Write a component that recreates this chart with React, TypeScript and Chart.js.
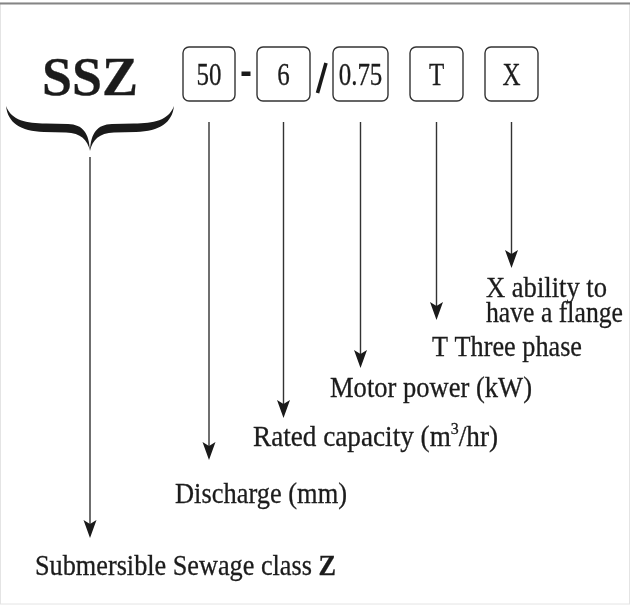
import React, { useEffect, useRef } from "react";
import { Chart, registerables } from "chart.js";

Chart.register(...registerables);

// ---- data ----
const brandCode = "SSZ";
const codeSegments = ["50", "6", "0.75", "T", "X"];
const separators = ["-", "/", "", ""];
const codeMeanings: { text: string; bold?: boolean; sup?: boolean }[][][] = [
  [[{ text: "Discharge (mm)" }]],
  [[{ text: "Rated capacity (m" }, { text: "3", sup: true }, { text: "/hr)" }]],
  [[{ text: "Motor power (kW)" }]],
  [[{ text: "T Three phase" }]],
  [[{ text: "X ability to" }], [{ text: "have a flange" }]],
];
const brandMeaning = [{ text: "Submersible Sewage class " }, { text: "Z", bold: true }];

// ---- layout (pixels in a 630 x 606 frame) ----
const W = 630;
const H = 606;
const boxLeft = [183, 257, 333, 410, 485];
const boxWidth = [52, 53, 55, 53, 53];
const boxTop = 47;
const boxHeight = 54;
const arrowStartY = 122;
const arrowTipY = [460, 418, 368, 320, 268];
const labelLeft = [175, 253, 330, 432, 486];
const labelRight = [[347], [498], [532], [582], [607, 623]];
const labelBaseline = [[503], [446], [397], [356], [297, 322]];
const brandArrowX = 90;
const brandArrowStart = 157;
const brandArrowTip = 538;

const SERIF = "Liberation Serif";
const INK = "#1c1c1c";

function drawRich(
  ctx: CanvasRenderingContext2D,
  segs: { text: string; bold?: boolean; sup?: boolean }[],
  left: number,
  baseline: number,
  size: number,
  right: number
) {
  const fontOf = (s: { bold?: boolean; sup?: boolean }) =>
    `${s.bold ? "bold " : ""}${s.sup ? Math.round(size * 0.6) : size}px "${SERIF}"`;
  let w = 0;
  const widths: number[] = [];
  segs.forEach((s) => {
    ctx.font = fontOf(s);
    const m = ctx.measureText(s.text).width;
    widths.push(m);
    w += m;
  });
  const sx = (right - left) / w;
  ctx.save();
  ctx.translate(left, baseline);
  ctx.scale(sx, 1);
  ctx.fillStyle = INK;
  ctx.strokeStyle = INK;
  ctx.lineWidth = 0.3;
  ctx.textBaseline = "alphabetic";
  ctx.textAlign = "left";
  let cx = 0;
  segs.forEach((s, i) => {
    ctx.font = fontOf(s);
    const yy = s.sup ? -size * 0.4 : 0;
    ctx.fillText(s.text, cx, yy);
    ctx.strokeText(s.text, cx, yy);
    cx += widths[i];
  });
  ctx.restore();
}

function arrowHead(ctx: CanvasRenderingContext2D, x: number, tip: number) {
  ctx.beginPath();
  ctx.moveTo(x, tip);
  ctx.lineTo(x - 6.5, tip - 18);
  ctx.lineTo(x, tip - 14);
  ctx.lineTo(x + 6.5, tip - 18);
  ctx.closePath();
  ctx.fillStyle = "#1a1a1a";
  ctx.fill();
}

const diagramPlugin = {
  id: "diagram",
  afterDatasetsDraw(chart: any) {
    const { ctx } = chart;
    const sx = chart.scales.x;
    const sy = chart.scales.y;
    const X = (v: number) => sx.getPixelForValue(v);
    const Y = (v: number) => sy.getPixelForValue(v);
    ctx.save();

    // frame
    ctx.strokeStyle = "#e4e4e4";
    ctx.lineWidth = 1;
    ctx.strokeRect(X(0) + 0.5, Y(3), X(W) - 1, Y(604) - Y(3));
    ctx.strokeStyle = "#858585";
    ctx.lineWidth = 2;
    ctx.beginPath();
    ctx.moveTo(X(0), Y(3.5));
    ctx.lineTo(X(W), Y(3.5));
    ctx.stroke();

    // brand text
    drawRich(ctx, [{ text: brandCode, bold: true }], X(42), Y(95), 55, X(138));

    // brace
    const half = (m: number) => {
      const c = 90;
      const px = (v: number) => X(c + m * (v - c));
      ctx.beginPath();
      ctx.moveTo(px(6), Y(106));
      ctx.bezierCurveTo(px(12), Y(121), px(26), Y(123), px(46), Y(123.5));
      ctx.lineTo(px(68), Y(124));
      ctx.bezierCurveTo(px(83), Y(124.5), px(89), Y(133), px(90), Y(151));
      ctx.bezierCurveTo(px(87.5), Y(140), px(81), Y(133), px(66), Y(132.5));
      ctx.lineTo(px(44), Y(132));
      ctx.bezierCurveTo(px(20), Y(131), px(8), Y(123), px(6), Y(106));
      ctx.closePath();
      ctx.fillStyle = "#1a1a1a";
      ctx.fill();
    };
    half(1);
    half(-1);

    // boxes with code text
    codeSegments.forEach((code, i) => {
      const l = X(boxLeft[i]);
      const t = Y(boxTop);
      const w = X(boxLeft[i] + boxWidth[i]) - l;
      const h = Y(boxTop + boxHeight) - t;
      ctx.beginPath();
      ctx.roundRect(l, t, w, h, 6);
      ctx.strokeStyle = "#333";
      ctx.lineWidth = 1.4;
      ctx.stroke();
      ctx.save();
      ctx.translate(l + w / 2, Y(85));
      ctx.scale(0.78, 1);
      ctx.font = `32px "${SERIF}"`;
      ctx.fillStyle = INK;
      ctx.strokeStyle = INK;
      ctx.lineWidth = 0.3;
      ctx.textAlign = "center";
      ctx.fillText(code, 0, 0);
      ctx.strokeText(code, 0, 0);
      ctx.restore();
    });

    // separators
    separators.forEach((s, i) => {
      const gapL = boxLeft[i] + boxWidth[i];
      const gapR = boxLeft[i + 1];
      const mid = (gapL + gapR) / 2;
      if (s === "-") {
        ctx.fillStyle = "#1a1a1a";
        ctx.fillRect(X(mid - 4.5), Y(71.5), X(mid + 4.5) - X(mid - 4.5), Y(76) - Y(71.5));
      } else if (s === "/") {
        ctx.beginPath();
        ctx.moveTo(X(mid + 4.5), Y(63));
        ctx.lineTo(X(mid - 4), Y(93));
        ctx.strokeStyle = "#1a1a1a";
        ctx.lineWidth = 3.6;
        ctx.stroke();
      }
    });

    // arrowheads
    codeSegments.forEach((_, i) => {
      arrowHead(ctx, X(boxLeft[i] + boxWidth[i] / 2), Y(arrowTipY[i]));
    });
    arrowHead(ctx, X(brandArrowX), Y(brandArrowTip));

    // labels
    codeMeanings.forEach((lines, i) => {
      lines.forEach((segs, j) => {
        drawRich(ctx, segs, X(labelLeft[i]), Y(labelBaseline[i][j]), 29, X(labelRight[i][j]));
      });
    });
    drawRich(ctx, brandMeaning, X(35), Y(575), 29, X(336));

    ctx.restore();
  },
};

export default function App() {
  const ref = useRef<HTMLCanvasElement | null>(null);
  useEffect(() => {
    if (!ref.current) return;
    const lineDs = (x: number, y0: number, y1: number) => ({
      data: [
        { x, y: y0 },
        { x, y: y1 },
      ],
      showLine: true,
      borderColor: "#333",
      borderWidth: 1.4,
      pointRadius: 0,
      pointHoverRadius: 0,
    });
    const datasets = codeSegments.map((_, i) =>
      lineDs(boxLeft[i] + boxWidth[i] / 2, arrowStartY, arrowTipY[i] - 14)
    );
    datasets.push(lineDs(brandArrowX, brandArrowStart, brandArrowTip - 14));
    const chart = new Chart(ref.current, {
      type: "scatter",
      data: { datasets },
      options: {
        animation: false,
        responsive: false,
        devicePixelRatio: 1,
        layout: { padding: 0 },
        plugins: { legend: { display: false }, tooltip: { enabled: false } },
        events: [],
        scales: {
          x: { type: "linear", min: 0, max: W, display: false },
          y: { type: "linear", min: 0, max: H, reverse: true, display: false },
        },
      },
      plugins: [diagramPlugin],
    } as any);
    return () => chart.destroy();
  }, []);
  return (
    <div style={{ position: "fixed", left: 0, top: 0, width: W, height: H, background: "#fff" }}>
      <canvas ref={ref} width={W} height={H} style={{ display: "block" }} />
    </div>
  );
}
